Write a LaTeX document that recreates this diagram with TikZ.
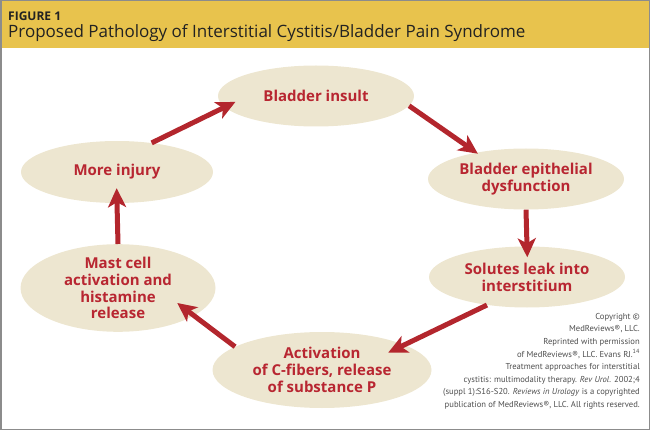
\documentclass[tikz,border=0pt]{standalone}
\usepackage{fontspec}
\setmainfont{Open Sans}
\newfontfamily\notefont{PT Sans}
\usetikzlibrary{arrows.meta,shapes.geometric}
\definecolor{headbar}{HTML}{E8C34D}
\definecolor{ellfill}{HTML}{EDE6D0}
\definecolor{stepred}{HTML}{B82631}
\definecolor{arrred}{HTML}{B3262D}
\definecolor{framegray}{HTML}{8C8C8C}
\definecolor{notegray}{HTML}{4D4D4D}
\definecolor{headink}{HTML}{222222}
\tikzset{
  stepell/.style={ellipse,fill=ellfill,text=stepred,align=center,
    font=\fontsize{15}{16.8}\selectfont\bfseries,inner sep=0pt,
    minimum width=196pt,minimum height=61pt},
  cyclearr/.style={-{Stealth[length=19pt,width=18pt,inset=5pt]},line width=5pt,color=arrred},
  notetext/.style={align=right,text=notegray,font=\notefont\fontsize{8.6}{12.6}\selectfont,inner sep=0pt},
}

\begin{document}
\begin{tikzpicture}[x=1pt,y=-1pt]
  \useasboundingbox (0,0) rectangle (650,430);
  % header band
  \fill[headbar] (0,0) rectangle (650,48);
  \node[anchor=base west,inner sep=0pt,text=headink,font=\fontsize{12}{14}\selectfont\bfseries] (fig) at (8,20.5) {FIGURE 1};
  \node[anchor=base west,inner sep=0pt,text=headink,font=\fontsize{17}{19}\selectfont] (title) at (8,37.5) {Proposed Pathology of Interstitial Cystitis/Bladder Pain Syndrome};
  \draw[framegray,line width=1.5pt] (0.75,0.75) rectangle (649.25,429.25);

  % the cycle
  \node[stepell] (insult) at (316,96) {Bladder insult};
  \node[stepell] (epi) at (526,179) {Bladder epithelial\\dysfunction};
  \node[stepell] (solutes) at (527,277) {Solutes leak into\\interstitium};
  \node[stepell,minimum width=219pt,minimum height=76pt] (cfib) at (322,370) {Activation\\of C-fibers, release\\of substance P};
  \node[stepell,minimum width=195pt,minimum height=87pt] (mast) at (118,288) {Mast cell\\activation and\\histamine\\release};
  \node[stepell,minimum width=192pt,minimum height=62pt] (more) at (117,172) {More injury};

  \draw[cyclearr,shorten >=-12pt] (more.40) -- (insult.187);
  \draw[cyclearr,shorten >=-2pt] (insult.-6) -- (epi.152);
  \draw[cyclearr,shorten >=-11pt] (epi.south) -- (solutes.north);
  \draw[cyclearr,shorten >=-18pt] (solutes.215) -- (cfib.17);
  \draw[cyclearr,shorten >=-21pt] (cfib.165) -- (mast.-20);
  \draw[cyclearr,shorten >=-15pt] (mast.north) -- (more.south);

  % permission note
  \node[notetext,anchor=north east] (note) at (640,313) {Copyright ©\\
    MedReviews®, LLC.\\
    Reprinted with permission\\
    of MedReviews®, LLC. Evans RJ.\textsuperscript{14}\\
    Treatment approaches for interstitial\\
    cystitis: multimodality therapy. \textit{Rev Urol.} 2002;4\\
    (suppl 1):S16-S20. \textit{Reviews in Urology} is a copyrighted\\
    publication of MedReviews®, LLC. All rights reserved.};
\end{tikzpicture}
\end{document}
